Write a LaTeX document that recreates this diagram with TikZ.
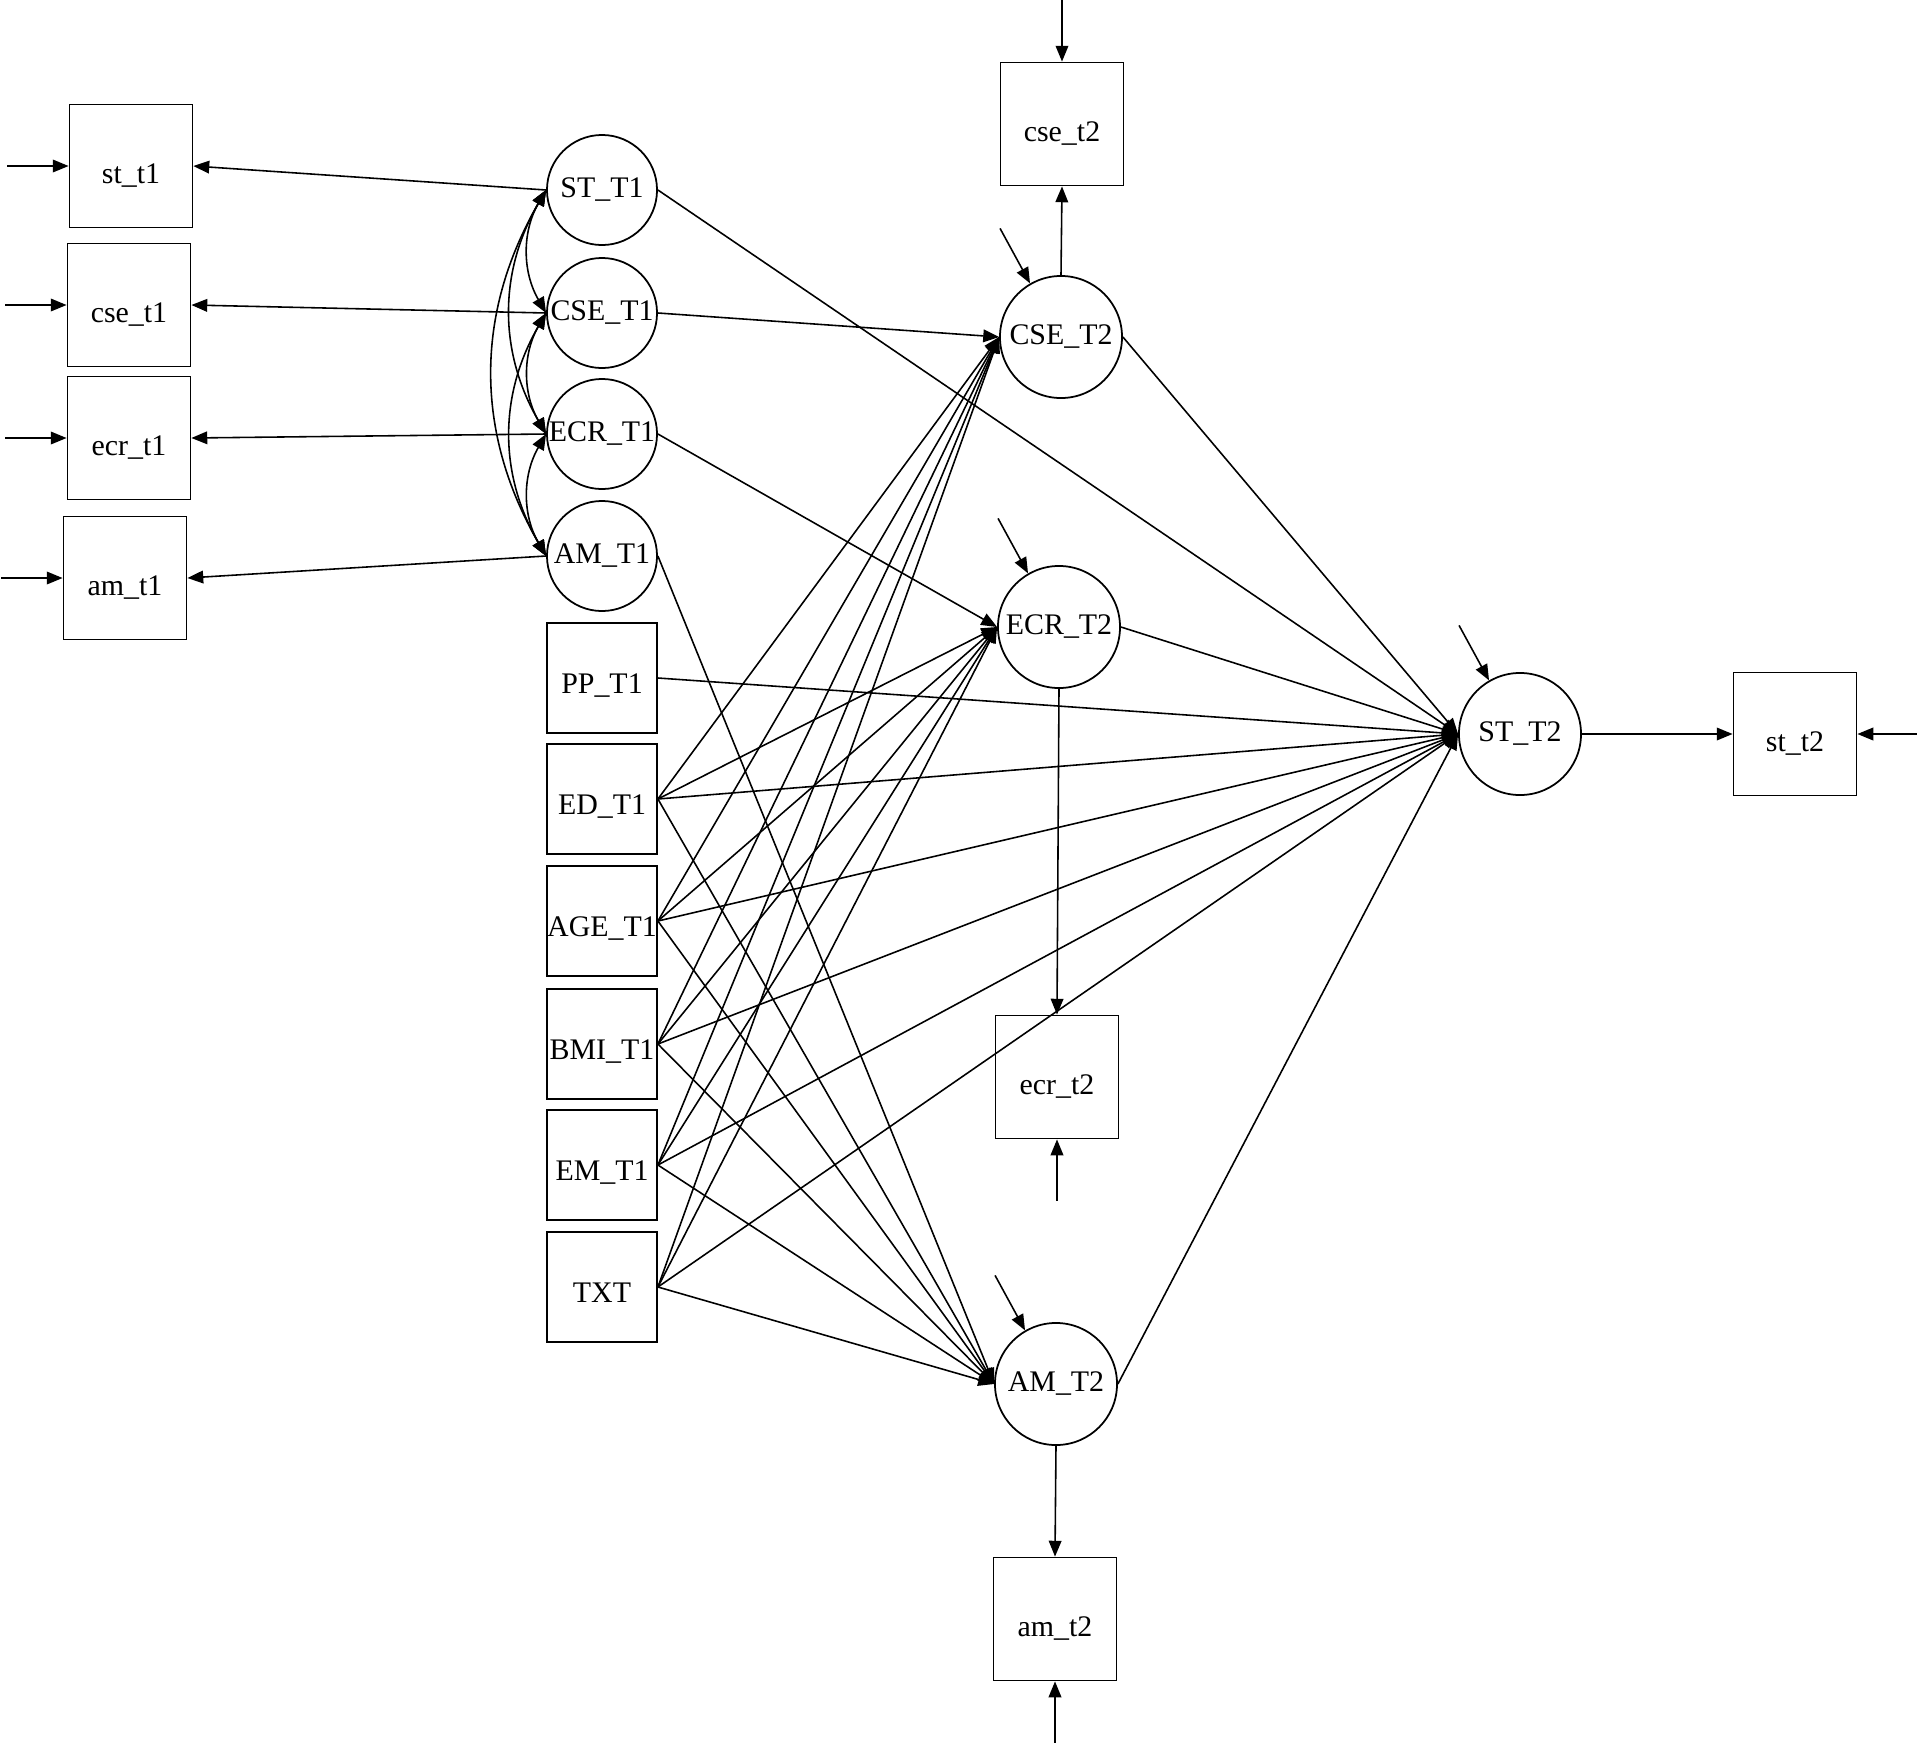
\documentclass[tikz,border=0pt]{standalone}
\usepackage{fontspec}
\setmainfont{Liberation Serif}
\usetikzlibrary{arrows.meta}
\tikzset{
  obsbox/.style={draw,line width=.5pt,minimum size=1.23cm,inner sep=0pt,text height=1.1em,text depth=.1em},
  covbox/.style={draw,line width=.5pt,minimum size=1.1cm,inner sep=0pt,text height=1em,text depth=.1em},
  latone/.style={draw,circle,line width=.5pt,minimum size=1.1cm,inner sep=0pt},
  lattwo/.style={draw,circle,line width=.5pt,minimum size=1.22cm,inner sep=0pt},
}
\begin{document}
\begin{tikzpicture}[>={Triangle[length=4.5pt,width=3.6pt]},line width=.45pt,font=\fontsize{8.5}{10}\selectfont,x=.01cm,y=-.01cm]
\useasboundingbox (0,0) rectangle (1920,1745);
\foreach \n/\x/\y in {st/131/166,cse/129/305,ecr/129/438,am/125/578}{
	\node[obsbox] (\n1) at (\x,\y) {\n\_t1};
	\draw[<-] (\n1.west) -- ++(-62,0);
}
\foreach \n/\t/\y in {ST1/ST\_T1/190,CSE1/CSE\_T1/313,ECR1/ECR\_T1/434,AM1/AM\_T1/556}
	\node[latone] (\n) at (602,\y) {\t};
\foreach \n/\t/\y in {PP/PP\_T1/678,ED/ED\_T1/799,AGE/AGE\_T1/921,BMI/BMI\_T1/1044,EM/EM\_T1/1165,TXT/TXT/1287}
	\node[covbox] (\n) at (602,\y) {\t};
\node[lattwo] (CSE2) at (1061,337) {CSE\_T2};
\node[lattwo] (ECR2) at (1059,627) {ECR\_T2};
\node[lattwo] (AM2) at (1056,1384) {AM\_T2};
\node[lattwo] (ST2) at (1520,734) {ST\_T2};
\node[obsbox] (cse2) at (1062,124) {cse\_t2};
\node[obsbox] (ecr2) at (1057,1077) {ecr\_t2};
\node[obsbox] (am2) at (1055,1619) {am\_t2};
\node[obsbox] (st2) at (1795,734) {st\_t2};

\foreach \a/\b in {st/ST,cse/CSE,ecr/ECR,am/AM}
	\draw[->] (\b1.west) -- (\a1.east);
\foreach \a/\b in {ST1/CSE1,ST1/ECR1,ST1/AM1,CSE1/ECR1,CSE1/AM1,ECR1/AM1}
	\draw[<->] (\a.west) to[bend right=30] (\b.west);

\foreach \a/\b in {ST1/ST2,CSE1/CSE2,ECR1/ECR2,AM1/AM2,CSE2/ST2,ECR2/ST2,AM2/ST2,PP/ST2}
	\draw[->] (\a.east) -- (\b.west);
\foreach \a in {ED,AGE,BMI,EM,TXT}
	\foreach \b in {CSE2,ECR2,AM2,ST2}
		\draw[->] (\a.east) -- (\b.west);

\draw[->] (CSE2.north) -- (cse2.south);
\draw[->] (ECR2.south) -- (ecr2.north);
\draw[->] (AM2.south) -- (am2.north);
\draw[->] (ST2.east) -- (st2.west);
\foreach \n in {CSE2,ECR2,AM2,ST2}
	\draw[<-] (\n.120) -- ++(-30,-55);
\draw[<-] (cse2.north) -- ++(0,-62);
\draw[<-] (ecr2.south) -- ++(0,62);
\draw[<-] (am2.south) -- ++(0,62);
\draw[<-] (st2.east) -- ++(60,0);
\end{tikzpicture}
\end{document}
